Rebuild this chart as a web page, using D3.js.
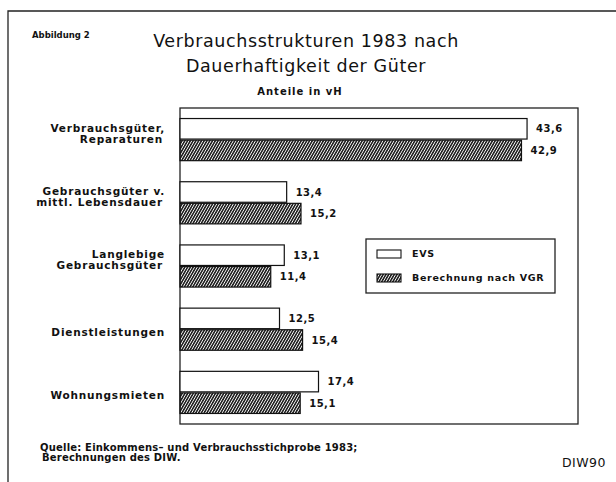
<!DOCTYPE html>
<html>
<head>
<meta charset="utf-8">
<script src="https://cdn.jsdelivr.net/npm/d3@7"></script>
<style>
  html, body { margin: 0; padding: 0; background: #fff; }
  svg text { font-family: "DejaVu Sans", sans-serif; fill: #111; }
</style>
</head>
<body>
<div id="chart"></div>
<script>
// Werte aus der Abbildung (Anteile in vH)
var categories = [
    ["Verbrauchsgüter,", "Reparaturen"],
    ["Gebrauchsgüter v.", "mittl. Lebensdauer"],
    ["Langlebige", "Gebrauchsgüter"],
    ["Dienstleistungen"],
    ["Wohnungsmieten"]
]
var evs = [43.6, 13.4, 13.1, 12.5, 17.4]
var vgr = [42.9, 15.2, 11.4, 15.4, 15.1]
var seriesNames = ["EVS", "Berechnung nach VGR"]

var width = 616, height = 482

var svg = d3.select("#chart").append("svg")
    .attr("width", width)
    .attr("height", height)

// schraffur, fein und dunkel
var defs = svg.append("defs")
defs.append("pattern")
    .attr("id", "hatch")
    .attr("patternUnits", "userSpaceOnUse")
    .attr("width", 2.4)
    .attr("height", 2.4)
    .attr("patternTransform", "rotate(30)")
    .append("rect")
    .attr("x", 0).attr("y", 0)
    .attr("width", 1.55).attr("height", 2.4)
    .attr("fill", "#1a1a1a")

// aeusserer rahmen (oben + links)
svg.append("path")
    .attr("d", "M8,482 L8,11 L616,11")
    .attr("fill", "none")
    .attr("stroke", "#222")
    .attr("stroke-width", 1.3)

svg.append("text")
    .attr("x", 32).attr("y", 38)
    .style("font-size", "8.5px").style("font-weight", "bold")
    .text("Abbildung 2")

var title = svg.append("text")
    .attr("text-anchor", "middle")
    .style("font-size", "17.5px")
    .style("letter-spacing", "0.6px")
var titleLines = ["Verbrauchsstrukturen 1983 nach", "Dauerhaftigkeit der Güter"]
titleLines.forEach(function (t, i) {
    title.append("tspan").attr("x", 306).attr("y", 47 + i * 25).text(t)
})

svg.append("text")
    .attr("x", 300).attr("y", 95)
    .attr("text-anchor", "middle")
    .style("font-size", "10px").style("font-weight", "bold")
    .style("letter-spacing", "1px")
    .text("Anteile in vH")

var plot = {left: 180, right: 578, top: 108, bottom: 424}

var x = d3.scaleLinear().domain([0, 50]).range([plot.left, plot.right])
var y = d3.scaleBand()
    .domain(d3.range(categories.length))
    .range([plot.top, plot.bottom])
    .paddingInner(1/3)
    .paddingOuter(1/6)
var ySub = d3.scaleBand().domain([0, 1]).range([0, y.bandwidth()]).paddingInner(0.05)

var fmt = d3.formatLocale({decimal: ",", thousands: ".", grouping: [3], currency: ["", ""]}).format(".1f")

svg.append("rect")
    .attr("x", plot.left).attr("y", plot.top)
    .attr("width", plot.right - plot.left)
    .attr("height", plot.bottom - plot.top)
    .attr("fill", "none")
    .attr("stroke", "#222")
    .attr("stroke-width", 1.3)

var rows = categories.map(function (c, i) {
    return {i: i, lines: c, values: [evs[i], vgr[i]]}
})

var group = svg.selectAll(".group")
    .data(rows)
    .enter().append("g")
    .attr("class", "group")
    .attr("transform", function (d) { return "translate(0," + y(d.i) + ")" })

group.selectAll("rect")
    .data(function (d) { return d.values })
    .enter().append("rect")
    .attr("x", x(0))
    .attr("y", function (v, j) { return ySub(j) })
    .attr("width", function (v) { return x(v) - x(0) })
    .attr("height", ySub.bandwidth())
    .attr("fill", function (v, j) { return j === 0 ? "#fff" : "url(#hatch)" })
    .attr("stroke", "#111")
    .attr("stroke-width", 1.2)

group.selectAll(".val")
    .data(function (d) { return d.values })
    .enter().append("text")
    .attr("class", "val")
    .attr("x", function (v) { return x(v) + 9 })
    .attr("y", function (v, j) { return ySub(j) + ySub.bandwidth() / 2 })
    .attr("dy", "0.36em")
    .style("font-size", "10px").style("font-weight", "bold")
    .style("letter-spacing", "0.5px")
    .text(function (v) { return fmt(v) })

group.append("text")
    .attr("text-anchor", "end")
    .style("font-size", "10.5px").style("font-weight", "bold")
    .style("letter-spacing", "0.8px")
    .selectAll("tspan")
    .data(function (d) {
        return d.lines.map(function (l, k) { return {t: l, k: k, n: d.lines.length} })
    })
    .enter().append("tspan")
    .attr("x", function (d) { return d.k === 1 ? 163 : 165 })
    .attr("y", function (d) {
        var c = y.bandwidth() / 2
        if (d.n === 1) return c + 7
        return c - 8 + d.k * 11
    })
    .text(function (d) { return d.t })

// legende
var legend = svg.append("g").attr("transform", "translate(366,239)")
legend.append("rect")
    .attr("width", 189).attr("height", 54)
    .attr("fill", "#fff")
    .attr("stroke", "#222")
    .attr("stroke-width", 1.3)

var item = legend.selectAll(".item")
    .data(seriesNames)
    .enter().append("g")
    .attr("class", "item")
    .attr("transform", function (d, i) { return "translate(11," + (11 + i * 24) + ")" })

item.append("rect")
    .attr("width", 24).attr("height", 8)
    .attr("fill", function (d, i) { return i === 0 ? "#fff" : "url(#hatch)" })
    .attr("stroke", "#111")
    .attr("stroke-width", 1.1)

item.append("text")
    .attr("x", 35).attr("y", 4)
    .attr("dy", "0.36em")
    .style("font-size", "9.5px").style("font-weight", "bold")
    .style("letter-spacing", "0.7px")
    .text(function (d) { return d })

var source = svg.append("text")
    .style("font-size", "10px").style("font-weight", "bold")
    .style("letter-spacing", "0.2px")
var sourceLines = ["Quelle: Einkommens\u2013 und Verbrauchsstichprobe 1983;", "Berechnungen des DIW."]
sourceLines.forEach(function (t, i) {
    source.append("tspan").attr("x", i === 0 ? 40 : 42).attr("y", 451 + i * 10).text(t)
})

svg.append("text")
    .attr("x", 606).attr("y", 467)
    .attr("text-anchor", "end")
    .style("font-size", "12.5px")
    .style("letter-spacing", "0.5px")
    .text("DIW90")
</script>
</body>
</html>
